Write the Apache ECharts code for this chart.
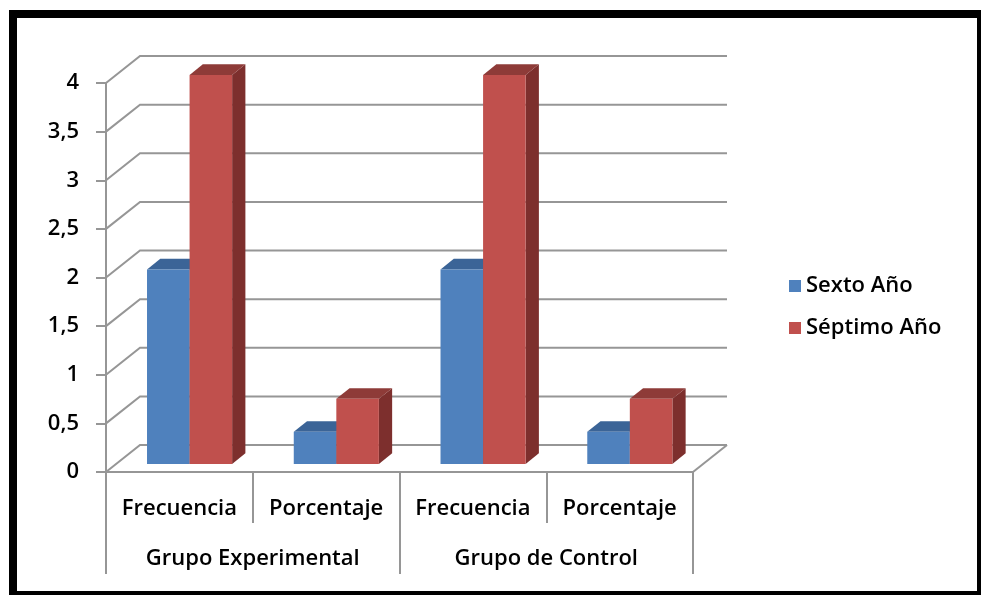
<!DOCTYPE html>
<html><head><meta charset="utf-8">
<script src="https://cdn.jsdelivr.net/npm/echarts@6/dist/echarts.min.js"></script>
<style>html,body{margin:0;padding:0;background:#fff}#c{width:982px;height:596px}</style>
</head><body><div id="c"></div>
<script>
const categories = ['Frecuencia', 'Porcentaje', 'Frecuencia', 'Porcentaje'];
const groups = ['Grupo Experimental', 'Grupo de Control'];
const seriesNames = ['Sexto Año', 'Séptimo Año'];
const sexto = [2, 0.33, 2, 0.33];
const septimo = [4, 0.67, 4, 0.67];
const yTicks = [0, 0.5, 1, 1.5, 2, 2.5, 3, 3.5, 4];

const FONT = '"Open Sans", Lato, sans-serif';
const FS = 22;
const FW = 600;
const DX = 34, DY = -27;
const GRAY = '#969696';
const colors = [
  { front: '#4F81BD', top: '#3B6497', side: '#2F4F79' },
  { front: '#C0504D', top: '#8E3B38', side: '#7D2F2D' }
];

function barRenderer(si) {
  return function (params, api) {
    const ci = api.value(0), v = api.value(1);
    const top = api.coord([ci, v]);
    const base = api.coord([ci, 0]);
    const cw = api.size([1, 0])[0];
    const bw = cw * 0.29;
    const ox = DX * 0.3, oy = DY * 0.3, dx = DX * 0.39, dy = DY * 0.39;
    const x0 = top[0] + ox + (si === 0 ? -bw : 0), x1 = x0 + bw;
    const yT = top[1] + oy, yB = base[1] + oy;
    const c = colors[si];
    return {
      type: 'group',
      children: [
        { type: 'polygon', shape: { points: [[x1, yT], [x1 + dx, yT + dy], [x1 + dx, yB + dy], [x1, yB]] }, style: { fill: c.side } },
        { type: 'polygon', shape: { points: [[x0, yT], [x0 + dx, yT + dy], [x1 + dx, yT + dy], [x1, yT]] }, style: { fill: c.top } },
        { type: 'rect', shape: { x: x0, y: yT, width: bw, height: yB - yT }, style: { fill: c.front } }
      ]
    };
  };
}

function wallRenderer(params, api) {
  const v = api.value(0);
  const cs = params.coordSys;
  const y = api.coord([0, v])[1];
  const xl = cs.x, xr = cs.x + cs.width;
  const st = { stroke: GRAY, lineWidth: 2, fill: null };
  const ch = [
    { type: 'polyline', shape: { points: [[xl, y], [xl + DX, y + DY], [xr + DX, y + DY]] }, style: st }
  ];
  if (v === 0) {
    ch.push({ type: 'line', shape: { x1: xr, y1: y, x2: xr + DX, y2: y + DY }, style: st });
  }
  return { type: 'group', children: ch };
}

const chart = echarts.init(document.getElementById('c'));
chart.setOption({
  animation: false,
  backgroundColor: '#fff',
  textStyle: { fontFamily: FONT },
  graphic: [
    { type: 'rect', shape: { x: 9, y: 10, width: 8, height: 585 }, style: { fill: '#000' } },
    { type: 'rect', shape: { x: 9, y: 10, width: 972, height: 8 }, style: { fill: '#000' } },
    { type: 'rect', shape: { x: 977, y: 10, width: 4, height: 585 }, style: { fill: '#000' } },
    { type: 'rect', shape: { x: 9, y: 591, width: 972, height: 4 }, style: { fill: '#000' } }
  ],
  legend: {
    data: seriesNames,
    orient: 'vertical',
    left: 784, top: 270,
    icon: 'rect', itemWidth: 12, itemHeight: 12, itemGap: 20,
    textStyle: { fontSize: FS, fontWeight: FW, color: '#000', fontFamily: FONT }
  },
  grid: { left: 106, right: 289, top: 83, bottom: 124 },
  xAxis: [
    {
      type: 'category', data: categories, position: 'bottom',
      axisLine: { lineStyle: { color: GRAY, width: 2 } },
      axisTick: { show: true, interval: 0, length: 51, lineStyle: { color: GRAY, width: 2 } },
      axisLabel: { interval: 0, margin: 26, fontSize: FS, fontWeight: FW, color: '#000', fontFamily: FONT }
    },
    {
      type: 'category', data: groups, position: 'bottom',
      axisLine: { show: false },
      axisTick: { show: true, interval: 0, length: 102, lineStyle: { color: GRAY, width: 2 } },
      axisLabel: { interval: 0, margin: 76, fontSize: FS, fontWeight: FW, color: '#000', fontFamily: FONT }
    }
  ],
  yAxis: {
    type: 'value', min: 0, max: 4, interval: 0.5,
    axisLine: { show: true, lineStyle: { color: GRAY, width: 2 } },
    axisTick: { show: true, length: 10, lineStyle: { color: GRAY, width: 2 } },
    splitLine: { show: false },
    axisLabel: { margin: 27, fontSize: FS, fontWeight: FW, color: '#000', fontFamily: FONT,
      formatter: v => String(v).replace('.', ',') }
  },
  series: [
    {
      type: 'custom', silent: true, clip: false, z: 1,
      data: yTicks.map(v => [v]),
      encode: { y: 0 },
      renderItem: wallRenderer
    },
    {
      name: seriesNames[0], type: 'custom', clip: false, z: 2,
      itemStyle: { color: colors[0].front },
      data: sexto.map((v, i) => [i, v]),
      encode: { x: 0, y: 1 },
      renderItem: barRenderer(0)
    },
    {
      name: seriesNames[1], type: 'custom', clip: false, z: 3,
      itemStyle: { color: colors[1].front },
      data: septimo.map((v, i) => [i, v]),
      encode: { x: 0, y: 1 },
      renderItem: barRenderer(1)
    }
  ]
});
</script></body></html>
